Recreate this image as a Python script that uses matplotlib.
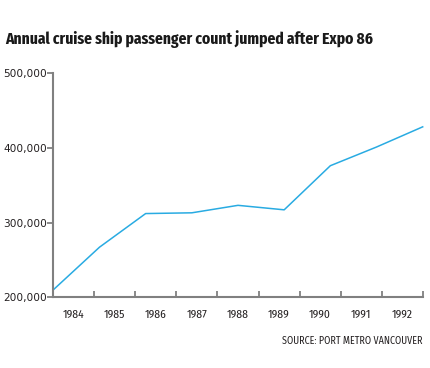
import matplotlib
matplotlib.use("Agg")
import matplotlib.pyplot as plt
import numpy as np

# Data
years = ["1984", "1985", "1986", "1987", "1988", "1989", "1990", "1991", "1992"]
passengers = [210000, 267000, 312000, 313000, 323000, 317000, 376000, 401000, 428000]
y_ticks = [200000, 300000, 400000, 500000]
y_labels = ["200,000", "300,000", "400,000", "500,000"]

title = "Annual cruise ship passenger count jumped after Expo 86"
source = "SOURCE: PORT METRO VANCOUVER"

title_font = ["Fira Sans Extra Condensed", "DejaVu Sans"]
year_font = ["Fira Sans Condensed", "DejaVu Sans"]
axis_grey = "#808080"
text_dark = "#231f20"
line_blue = "#29abe2"

fig = plt.figure(figsize=(4.31, 3.68), dpi=100)
ax = fig.add_axes([53.3 / 431, 1 - 297.3 / 368, (422.7 - 53.3) / 431, (297.3 - 73) / 368])

x = np.arange(len(passengers))
ax.plot(x, passengers, color=line_blue, lw=1.1, clip_on=False)

ax.set_xlim(0, len(passengers) - 1)
ax.set_ylim(200000, 500000)

# spines
for side in ["top", "right"]:
    ax.spines[side].set_visible(False)
for side in ["left", "bottom"]:
    ax.spines[side].set_color(axis_grey)
    ax.spines[side].set_linewidth(1.5)
    ax.spines[side].set_capstyle("projecting")

# y ticks
ax.set_yticks(y_ticks)
ax.set_yticklabels(y_labels)
ax.tick_params(axis="y", direction="out", length=4, width=1.3, color=axis_grey,
               labelsize=7.6, labelcolor=text_dark, pad=0.5)

# x: tick marks between years, labels centred in each slot
n = len(years)
edges = np.linspace(0, len(passengers) - 1, n + 1)
centers = (edges[:-1] + edges[1:]) / 2
ax.set_xticks(edges, minor=True)
ax.set_xticks(centers)
ax.set_xticklabels(years, family=year_font)
ax.tick_params(axis="x", which="minor", direction="in", length=4, width=1.3, color=axis_grey)
ax.tick_params(axis="x", which="major", length=0, pad=9, labelsize=8.3, labelcolor=text_dark)

# title, fitted to the reference width
t = fig.text(5 / 431, 1 - 43.5 / 368, title, family=title_font, weight="bold",
             fontsize=12, color="#1a1a1a", va="baseline", ha="left")
fig.canvas.draw()
w = t.get_window_extent().width
t.set_fontsize(12 * 368 / w)

fig.text(423 / 431, 1 - 343.5 / 368, source, family=year_font,
         fontsize=7.2, color=text_dark, ha="right", va="baseline")

fig.savefig("out.png", dpi=100)
